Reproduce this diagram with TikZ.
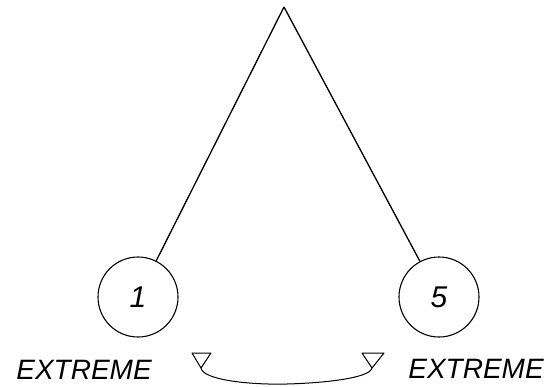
\documentclass[tikz,border=0pt]{standalone}
\usepackage{fontspec}
\setmainfont{Liberation Sans}
\tikzset{
  pole/.style={circle,draw,line width=1.1pt,minimum size=80pt,inner sep=0pt,font=\fontsize{30}{30}\selectfont\itshape},
  endlabel/.style={font=\fontsize{28}{28}\selectfont\itshape,inner sep=0pt},
  swingtip/.style={line width=1pt,line join=round},
}
\begin{document}
\begin{tikzpicture}[x=1pt,y=-1pt]
\useasboundingbox (0,0) rectangle (553,387);
\coordinate (apex) at (284,7);
\node[pole] (one) at (138,297) {1};
\node[pole] (five) at (439,297) {5};

\draw[line width=1.3pt] (apex) -- (one);
\draw[line width=1.3pt] (apex) -- (five);

\node[endlabel] (left) at (84,370) {EXTREME};
\node[endlabel] (right) at (476,369) {EXTREME};

% swing between the two ends
\coordinate (swingl) at (201,368);
\coordinate (swingr) at (372,368);
\draw[line width=1pt] (swingl) .. controls (203,380) and (250,385) .. (287,384)
  .. controls (325,383) and (370,378) .. (swingr);
\draw[swingtip] (swingl) -- ++(-9,-15) -- ++(19,0) -- cycle;
\draw[swingtip] (swingr) -- ++(-10,-15) -- ++(22,0) -- cycle;
\end{tikzpicture}
\end{document}
